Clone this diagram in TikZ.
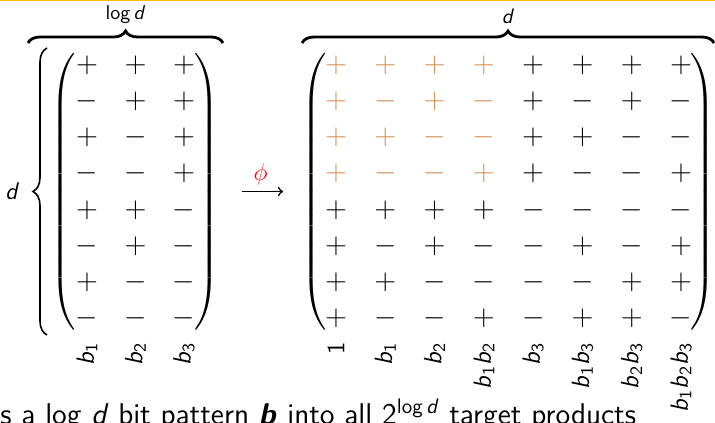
\documentclass[tikz,border=0pt]{standalone}
\usepackage{amsmath}
\usepackage{fontspec}
\usetikzlibrary{decorations.pathreplacing}
\definecolor{hlorange}{RGB}{212,146,88}
\definecolor{baryellow}{RGB}{242,192,0}
\newcommand{\bv}[1]{\textit{b}\textsubscript{#1}}
\newcommand{\tallL}{\fontsize{14.5}{17}\selectfont$\nulldelimiterspace=0pt\left(\vcenter{\hrule height 143pt width 0pt}\right.$}
\newcommand{\tallR}{\fontsize{14.5}{17}\selectfont$\nulldelimiterspace=0pt\left.\vcenter{\hrule height 143pt width 0pt}\right)$}
\begin{document}
\begin{tikzpicture}[x=0.5pt,y=-0.5pt,
  every node/.style={font=\sffamily},
  sgn/.style={inner sep=0pt,font=\fontsize{15}{17}\selectfont},
  lbl/.style={inner sep=0pt,rotate=90,anchor=east,font=\sffamily\fontsize{12.5}{14}\selectfont},
  brc/.style={decorate,decoration={brace,amplitude=6pt},line width=1.4pt}]
  \useasboundingbox (0,0) rectangle (715,422);
  \fill[baryellow] (0,0) rectangle (715,1.4);
  % bit patterns
  \foreach \row [count=\r] in {{+,+,+},{-,+,+},{+,-,+},{-,-,+},{+,+,-},{-,+,-},{+,-,-},{-,-,-}}
    \foreach \sg [count=\c] in \row
      \node[sgn] (L-\r-\c) at ({87+48.5*(\c-1)},{65+36.2*(\r-1)}) {$\sg$};
  % all products
  \foreach \row [count=\r] in {{+,+,+,+,+,+,+,+},{+,-,+,-,+,-,+,-},{+,+,-,-,+,+,-,-},{+,-,-,+,+,-,-,+},
      {+,+,+,+,-,-,-,-},{+,-,+,-,-,+,-,+},{+,+,-,-,-,-,+,+},{+,-,-,+,-,+,+,-}}
    \foreach \sg [count=\c] in \row {
      \def\col{black}
      \ifnum\r<5 \ifnum\c<5 \def\col{hlorange}\fi\fi
      \node[sgn,text=\col] (R-\r-\c) at ({336+49.3*(\c-1)},{65+36.2*(\r-1)}) {$\sg$};
    }
  \node[inner sep=0pt] (Lpl) at (63,191.5) {\tallL};
  \node[inner sep=0pt] (Lpr) at (207,191.5) {\tallR};
  \node[inner sep=0pt] (Rpl) at (314,191.5) {\tallL};
  \node[inner sep=0pt] (Rpr) at (703,191.5) {\tallR};
  \foreach \t [count=\c] in {\bv{1},\bv{2},\bv{3}}
    \node[lbl] (bl-\c) at ({87+48.5*(\c-1)},342) {\t};
  \foreach \t [count=\c] in {1,\bv{1},\bv{2},\bv{1}\bv{2},\bv{3},\bv{1}\bv{3},\bv{2}\bv{3},\bv{1}\bv{2}\bv{3}}
    \node[lbl] (br-\c) at ({336+49.3*(\c-1)},342) {\t};
  \draw[brc] (28,43) -- node[above=9pt,inner sep=0pt,font=\sffamily\fontsize{10}{12}\selectfont] (logd) {log\,\textit{d}} (223,43);
  \draw[brc] (302,43) -- node[above=9pt,inner sep=0pt,font=\sffamily\fontsize{10.5}{12}\selectfont] (dd) {\textit{d}} (714,43);
  \draw[brc,line width=0.8pt,decoration={amplitude=7pt}] (47,335) -- node[left=13.5pt,inner sep=0pt,font=\sffamily\fontsize{12}{14}\selectfont] (dl) {\textit{d}} (47,48);
  \draw[-to,line width=0.8pt,shorten <=17.5pt,shorten >=15.5pt] (Lpr.center) -- (Rpl.center)
    node[midway,above=3pt,inner sep=0pt,text=red,font=\fontsize{12}{14}\selectfont] (phi) {$\phi$};
  \node[anchor=base west,inner sep=0pt,font=\sffamily\fontsize{15}{17}\selectfont] (caption) at (0,424)
    {s a log \textit{d} bit pattern \textbf{\textit{b}} into all 2\textsuperscript{log\,\textit{d}} target products};
\end{tikzpicture}
\end{document}
